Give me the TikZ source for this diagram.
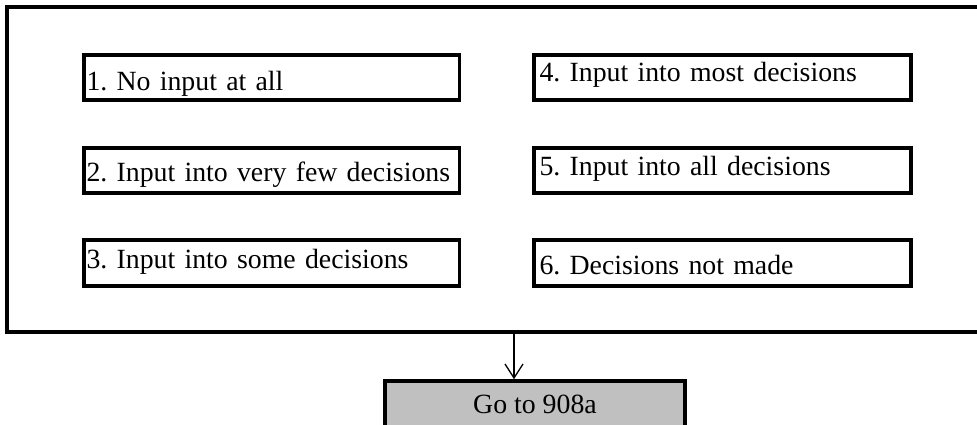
\documentclass[tikz,border=0pt]{standalone}
\usepackage{fontspec}
\setmainfont{Liberation Serif}
\usetikzlibrary{arrows.meta}
\definecolor{gobox}{HTML}{C0C0C0}
\newcommand{\optfont}{\fontsize{27.8}{34}\selectfont\frenchspacing\hyphenpenalty=10000 }
\tikzset{
  thick line/.style={line width=3.5pt},
  optbox/.style={draw, thick line, outer sep=0pt, inner ysep=0pt, align=left,
     anchor=north west, font=\optfont},
  leftopt/.style={optbox, inner xsep=2.5pt, text width=370.5pt},
  rightopt/.style={optbox, inner xsep=5.5pt, text width=366pt},
  frame/.style={draw, thick line, outer sep=0pt, inner sep=0pt, anchor=north west},
  gostyle/.style={draw, thick line, fill=gobox, outer sep=0pt, inner sep=0pt,
     minimum width=300pt, text height=32pt, text depth=40pt, anchor=north,
     font=\optfont},
  link/.style={line width=1.3pt, -{Straight Barb[length=14pt,width=18pt,line width=1.3pt]}}
}
\begin{document}
\begin{tikzpicture}[x=1pt,y=-1pt]
\clip (0,0) rectangle (977,424);
\node[frame, minimum width=990pt, minimum height=325pt] (outer) at (7,7) {};
% left column
\node[leftopt, text height=35pt, text depth=10pt] (o1) at (84,55) {1. No input at all};
\node[leftopt, text height=33pt, text depth=12pt] (o2) at (84,148) {\mbox{2. Input into very few decisions}};
\node[leftopt, text height=28pt, text depth=18pt] (o3) at (84,240) {3. Input into some decisions};
% right column
\node[rightopt, text height=26.5pt, text depth=18.5pt] (o4) at (534,55) {4. Input into most decisions};
\node[rightopt, text height=27pt, text depth=18pt] (o5) at (534,148) {5. Input into all decisions};
\node[rightopt, text height=34pt, text depth=12pt] (o6) at (534,240) {6. Decisions not made};
% go box
\node[gostyle] (go) at (535,381) {Go to 908a};
\coordinate (s) at (514,332);
\draw[link] (s) -- ([yshift=1.8pt]s |- go.north);
\end{tikzpicture}
\end{document}
